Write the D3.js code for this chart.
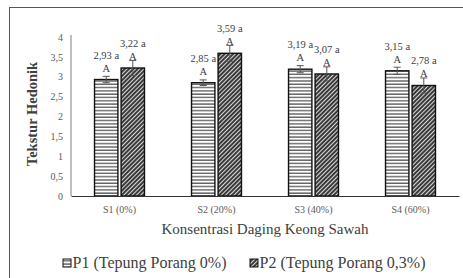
<!DOCTYPE html>
<html>
<head>
<meta charset="utf-8">
<script src="https://cdn.jsdelivr.net/npm/d3@7"></script>
<style>
  body { margin: 0; background: #fff; }
  svg text { font-family: "Liberation Serif", Tinos, "Times New Roman", Times, "DejaVu Serif", "Noto Serif", serif !important; }
</style>
</head>
<body>
<svg id="chart" width="463" height="278"></svg>
<script>
// data
const categories = ["S1 (0%)", "S2 (20%)", "S3 (40%)", "S4 (60%)"];
const seriesNames = ["P1 (Tepung Porang 0%)", "P2 (Tepung Porang 0,3%)"];
const p1Values = [2.93, 2.85, 3.19, 3.15];
const p2Values = [3.22, 3.59, 3.07, 2.78];
const p1Errors = [0.08, 0.07, 0.09, 0.09];
const p2Errors = [0.19, 0.2, 0.18, 0.19];
const p1Labels = ["2,93 a", "2,85 a", "3,19 a", "3,15 a"];
const p2Labels = ["3,22 a", "3,59 a", "3,07 a", "2,78 a"];
const p1Letters = ["A", "A", "A", "A"];
const p2Letters = ["A", "A", "A", "A"];
const yTicks = [0, 0.5, 1, 1.5, 2, 2.5, 3, 3.5, 4];

const rows = [];
categories.forEach((c, i) => {
  rows.push({cat: c, s: 0, v: p1Values[i], e: p1Errors[i], lab: p1Labels[i], let: p1Letters[i]});
  rows.push({cat: c, s: 1, v: p2Values[i], e: p2Errors[i], lab: p2Labels[i], let: p2Letters[i]});
});

const svg = d3.select('#chart');

// patterns
const defs = svg.append('defs');
const pH = defs.append('pattern')
  .attr('id', 'horiz').attr('patternUnits', 'userSpaceOnUse')
  .attr('width', 6).attr('height', 3.3);
pH.append('rect').attr('width', 6).attr('height', 3.3).attr('fill', '#fff');
pH.append('rect').attr('y', 1.2).attr('width', 6).attr('height', 1.1).attr('fill', '#3a3a3a');

const pD = defs.append('pattern')
  .attr('id', 'diag').attr('patternUnits', 'userSpaceOnUse')
  .attr('width', 3).attr('height', 3)
  .attr('patternTransform', 'rotate(45)');
pD.append('rect').attr('width', 3).attr('height', 3).attr('fill', '#3b3b3b');
pD.append('rect').attr('x', 0).attr('width', 1).attr('height', 3).attr('fill', '#d8d8d8');

const fills = ['url(#horiz)', 'url(#diag)'];

// outer frame
svg.append('rect')
  .attr('x', 9.5).attr('y', 7.5).attr('width', 470).attr('height', 290)
  .attr('fill', 'none').attr('stroke', '#555').attr('stroke-width', 1);

const x0 = d3.scaleBand().domain(categories).range([71, 459]).paddingInner(0.485).paddingOuter(0.2425);
const x1 = d3.scaleBand().domain([0, 1]).range([0, x0.bandwidth()]).paddingInner(0.12);
const y = d3.scaleLinear().domain([0, 4]).range([196, 37]);

// y axis
const yAxis = d3.axisLeft(y).tickValues(yTicks).tickSize(0).tickPadding(8)
  .tickFormat(d => String(d).replace('.', ','));
const gy = svg.append('g').attr('transform', 'translate(71,0)').call(yAxis);
gy.select('.domain').attr('stroke', '#7f7f7f').attr('d', 'M0,35V196');
gy.selectAll('text').attr('font-size', 10).attr('fill', '#595959');

// bars
const g = svg.append('g');
g.selectAll('rect.bar')
  .data(rows)
  .enter()
  .append('rect')
  .classed('bar', true)
  .attr('x', d => x0(d.cat) + x1(d.s))
  .attr('y', d => y(d.v))
  .attr('width', x1.bandwidth())
  .attr('height', d => y(0) - y(d.v))
  .attr('fill', d => fills[d.s])
  .attr('stroke', '#111')
  .attr('stroke-width', 1.4);

// error bars
const eb = g.selectAll('g.err').data(rows).enter().append('g').classed('err', true)
  .attr('transform', d => `translate(${x0(d.cat) + x1(d.s) + x1.bandwidth() / 2},0)`);
eb.append('line').attr('y1', d => y(d.v + d.e)).attr('y2', d => y(d.v - d.e))
  .attr('stroke', '#555').attr('stroke-width', 1);
eb.append('line').attr('x1', -3.5).attr('x2', 3.5)
  .attr('y1', d => y(d.v + d.e)).attr('y2', d => y(d.v + d.e))
  .attr('stroke', '#555').attr('stroke-width', 1);
eb.append('line').attr('x1', -3.5).attr('x2', 3.5)
  .attr('y1', d => y(d.v - d.e)).attr('y2', d => y(d.v - d.e))
  .attr('stroke', '#555').attr('stroke-width', 1);

// labels
eb.append('text')
  .attr('text-anchor', 'middle')
  .attr('y', d => y(d.v) - 8)
  .attr('font-size', 10.5).attr('fill', '#404040')
  .text(d => d.let);
eb.append('text')
  .attr('text-anchor', 'middle')
  .attr('y', d => y(d.v) - 21)
  .attr('font-size', 10.5).attr('fill', '#404040')
  .text(d => d.lab);

// x axis
const xAxis = d3.axisBottom(x0).tickSize(0).tickPadding(10);
const gx = svg.append('g').attr('transform', 'translate(0,196)').call(xAxis);
gx.select('.domain').attr('stroke', '#333').attr('stroke-width', 1.2);
gx.selectAll('text').attr('font-size', 10).attr('fill', '#595959');

// axis titles
svg.append('text')
  .attr('x', 265).attr('y', 234)
  .attr('text-anchor', 'middle')
  .attr('font-size', 15).attr('fill', '#404040')
  .text('Konsentrasi Daging Keong Sawah');

svg.append('text')
  .attr('transform', 'translate(37,114) rotate(-90)')
  .attr('text-anchor', 'middle')
  .attr('font-size', 14.5).attr('font-weight', 'bold').attr('fill', '#404040')
  .text('Tekstur Hedonik');

// legend
const legX = [63, 250];
const leg = svg.selectAll('g.leg').data(seriesNames).enter().append('g').classed('leg', true)
  .attr('transform', (d, i) => `translate(${legX[i]},259)`);
leg.append('rect').attr('width', 8).attr('height', 8)
  .attr('fill', (d, i) => fills[i]).attr('stroke', '#111').attr('stroke-width', 1);
leg.append('text').attr('x', 9.5).attr('y', 8.8)
  .attr('font-size', 16).attr('fill', '#404040')
  .text(d => d);
</script>
</body>
</html>
